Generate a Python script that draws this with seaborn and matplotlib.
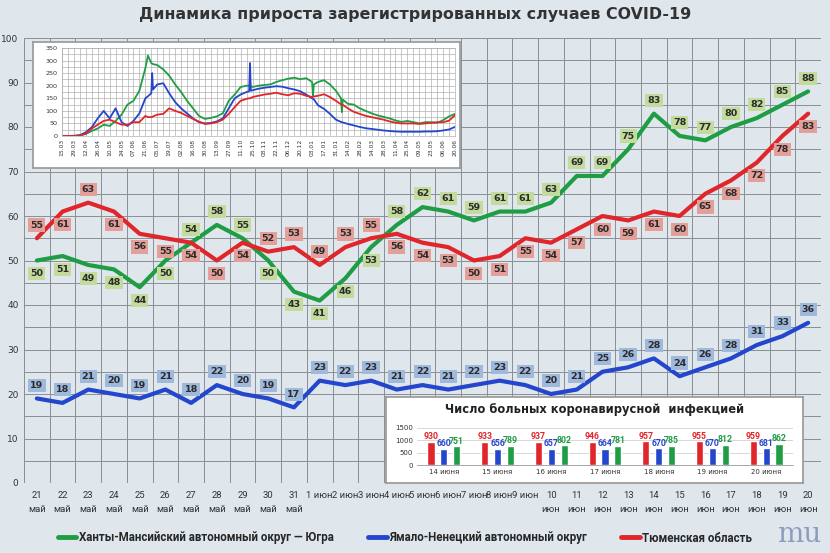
import pandas as pd
import matplotlib
matplotlib.use("Agg")
import matplotlib.pyplot as plt
import seaborn as sns
from matplotlib.lines import Line2D
from matplotlib.ticker import MultipleLocator

# ----------------------------
# Main chart: daily new cases, 21 May - 20 June 2021
# ----------------------------
day_labels = ["21\nмай", "22\nмай", "23\nмай", "24\nмай", "25\nмай", "26\nмай",
              "27\nмай", "28\nмай", "29\nмай", "30\nмай", "31\nмай",
              "1 июн", "2 июн", "3 июн", "4 июн", "5 июн", "6 июн", "7 июн",
              "8 июн", "9 июн", "10\nиюн", "11\nиюн", "12\nиюн", "13\nиюн",
              "14\nиюн", "15\nиюн", "16\nиюн", "17\nиюн", "18\nиюн", "19\nиюн",
              "20\nиюн"]
hmao = [50, 51, 49, 48, 44, 50, 54, 58, 55, 50, 43, 41, 46, 53, 58, 62, 61,
        59, 61, 61, 63, 69, 69, 75, 83, 78, 77, 80, 82, 85, 88]
yanao = [19, 18, 21, 20, 19, 21, 18, 22, 20, 19, 17, 23, 22, 23, 21, 22, 21,
         22, 23, 22, 20, 21, 25, 26, 28, 24, 26, 28, 31, 33, 36]
tyumen = [55, 61, 63, 61, 56, 55, 54, 50, 54, 52, 53, 49, 53, 55, 56, 54, 53,
          50, 51, 55, 54, 57, 60, 59, 61, 60, 65, 68, 72, 78, 83]

names = ["Ханты-Мансийский автономный округ — Югра",
         "Ямало-Ненецкий автономный округ",
         "Тюменская область"]

# ----------------------------
# Top-left inset: whole period since March 2020
# ----------------------------
inset_dates = ["15.03.2020", "22.03.2020", "29.03.2020", "05.04.2020", "12.04.2020",
               "19.04.2020", "26.04.2020", "03.05.2020", "10.05.2020", "17.05.2020",
               "24.05.2020", "31.05.2020", "07.06.2020", "14.06.2020", "21.06.2020",
               "24.06.2020", "28.06.2020", "29.06.2020", "30.06.2020", "05.07.2020",
               "12.07.2020", "19.07.2020", "26.07.2020", "02.08.2020", "09.08.2020",
               "16.08.2020", "23.08.2020", "30.08.2020", "06.09.2020", "13.09.2020",
               "20.09.2020", "27.09.2020", "04.10.2020", "11.10.2020", "18.10.2020",
               "21.10.2020", "22.10.2020", "23.10.2020", "25.10.2020", "01.11.2020",
               "08.11.2020", "15.11.2020", "22.11.2020", "29.11.2020", "06.12.2020",
               "13.12.2020", "20.12.2020", "27.12.2020", "03.01.2021", "04.01.2021",
               "05.01.2021", "10.01.2021", "17.01.2021", "24.01.2021", "31.01.2021",
               "06.02.2021", "07.02.2021", "08.02.2021", "14.02.2021", "21.02.2021",
               "28.02.2021", "07.03.2021", "14.03.2021", "21.03.2021", "28.03.2021",
               "04.04.2021", "11.04.2021", "18.04.2021", "25.04.2021", "02.05.2021",
               "09.05.2021", "16.05.2021", "23.05.2021", "30.05.2021", "06.06.2021",
               "13.06.2021", "20.06.2021"]
inset_hmao = [0, 0, 0, 2, 8, 20, 30, 45, 40, 60, 85, 125, 140, 180, 270,
              320, 290, 288, 286, 282, 265, 240, 205, 175, 140, 110, 80, 68,
              72, 78, 90, 140, 165, 195, 200, 200, 199, 198, 195, 200, 203,
              205, 215, 222, 228, 232, 226, 230, 215, 160, 205, 215, 222, 205,
              180, 150, 95, 145, 128, 125, 110, 100, 90, 82, 76, 70, 62, 56,
              60, 55, 50, 55, 55, 52, 63, 78, 88]
inset_yanao = [0, 0, 1, 3, 15, 35, 70, 100, 70, 110, 55, 40, 60, 90, 150,
               158, 170, 250, 185, 205, 210, 170, 135, 110, 90, 70, 55, 50,
               52, 58, 70, 110, 150, 165, 175, 178, 290, 180, 182, 188, 192,
               195, 198, 196, 190, 185, 178, 165, 150, 148, 146, 122, 108, 88,
               65, 56, 55, 54, 48, 42, 36, 31, 28, 25, 22, 20, 18, 17, 17, 17,
               17, 18, 18, 19, 22, 26, 36]
inset_tyumen = [0, 0, 0, 2, 10, 30, 45, 60, 65, 55, 45, 45, 55, 55, 80,
                75, 75, 76, 78, 85, 88, 110, 100, 92, 80, 68, 57, 48, 50, 55,
                65, 88, 115, 140, 148, 150, 150, 151, 155, 160, 165, 168, 172,
                166, 162, 170, 168, 160, 155, 156, 157, 160, 166, 155, 140, 126,
                125, 124, 110, 96, 88, 80, 75, 70, 65, 58, 53, 50, 50, 50, 48,
                50, 52, 55, 55, 61, 83]

# ----------------------------
# Bottom-right inset: number of patients
# ----------------------------
bar_days = ["14 июня", "15 июня", "16 июня", "17 июня", "18 июня", "19 июня", "20 июня"]
bar_tyumen = [930, 933, 937, 946, 957, 955, 959]
bar_yanao = [660, 656, 657, 664, 670, 670, 681]
bar_hmao = [751, 789, 802, 781, 785, 812, 862]

GREEN, BLUE, RED = "#1f9d45", "#2446cc", "#e0262a"
palette = {names[0]: GREEN, names[1]: BLUE, names[2]: RED}
NARROW = ["Roboto", "DejaVu Sans"]

sns.set_theme(style="white")
plt.rcParams["font.family"] = ["DejaVu Sans"]

fig = plt.figure(figsize=(8.3, 5.53), dpi=100)
fig.patch.set_facecolor("#dfe7ed")

# ----------------------------
# Main axes
# ----------------------------
ax = fig.add_axes([24 / 830, 1 - 483 / 553, 797 / 830, 445 / 553])
ax.set_facecolor("none")

n = len(day_labels)
df = pd.DataFrame({
    "day": list(range(n)) * 3,
    "value": hmao + yanao + tyumen,
    "region": [names[0]] * n + [names[1]] * n + [names[2]] * n,
})
sns.lineplot(data=df, x="day", y="value", hue="region", palette=palette,
             linewidth=3, ax=ax, legend=False)

ax.set_xlim(-0.5, n - 0.5)
ax.set_ylim(0, 100)
ax.set_xticks(range(n))
ax.set_xticklabels(day_labels, fontsize=6.8, color="#333333", linespacing=1.6,
                   family=NARROW)
ax.xaxis.set_minor_locator(MultipleLocator(1, offset=0.5))
ax.yaxis.set_major_locator(MultipleLocator(10))
ax.yaxis.set_minor_locator(MultipleLocator(5))
ax.tick_params(axis="y", labelsize=6.5, colors="#333333", length=0, pad=4)
ax.tick_params(axis="x", which="both", length=0, pad=6)
ax.grid(which="minor", axis="x", color="#8a8f96", linewidth=0.7)
ax.grid(which="both", axis="y", color="#8a8f96", linewidth=0.7)
ax.set_xlabel("")
ax.set_ylabel("")
for s in ax.spines.values():
    s.set_visible(False)

# value labels
green_below = {0, 1, 2, 3, 4, 5, 9, 10, 11, 12, 13}
red_above = {0, 2, 9, 10, 11, 12, 13}


def put_label(i, v, up, face):
    ax.annotate(str(v), (i, v), xytext=(0, 9.5 if up else -9.5),
                textcoords="offset points", ha="center", va="center",
                fontsize=6.8, fontweight="bold", color="#2b2b2b",
                bbox=dict(boxstyle="square,pad=0.22", fc=face, ec="none"))


for i, v in enumerate(hmao):
    put_label(i, v, i not in green_below, "#c3dc9e")
for i, v in enumerate(tyumen):
    put_label(i, v, i in red_above, "#e3a09a")
for i, v in enumerate(yanao):
    put_label(i, v, True, "#9fb9dc")

fig.text(0.5, 1 - 15 / 553, "Динамика прироста зарегистрированных случаев COVID-19",
         ha="center", va="center", fontsize=11.4, fontweight="bold", color="#333333")

# ----------------------------
# Top-left inset
# ----------------------------
box1 = fig.add_axes([33 / 830, 1 - 168 / 553, 427 / 830, 126 / 553])
box1.set_facecolor("white")
box1.set_xticks([])
box1.set_yticks([])
for s in box1.spines.values():
    s.set_color("#9a9a9a")

ax_in = fig.add_axes([62 / 830, 1 - 136 / 553, 393 / 830, 88 / 553])
ax_in.set_facecolor("white")
dates = pd.to_datetime(inset_dates, format="%d.%m.%Y")
m = len(dates)
df_in = pd.DataFrame({
    "date": list(dates) * 3,
    "value": inset_hmao + inset_yanao + inset_tyumen,
    "region": [names[0]] * m + [names[1]] * m + [names[2]] * m,
})
sns.lineplot(data=df_in, x="date", y="value", hue="region", palette=palette,
             hue_order=[names[0], names[1], names[2]],
             linewidth=1.3, ax=ax_in, legend=False)
ax_in.set_xlim(dates[0], dates[-1])
ax_in.set_ylim(0, 350)
tick_dates = pd.date_range(dates[0], dates[-1], freq="14D")
ax_in.set_xticks(tick_dates)
ax_in.set_xticklabels([d.strftime("%d.%m") for d in tick_dates], rotation=90,
                      fontsize=4.3, color="#333333")
ax_in.set_xticks(pd.date_range(dates[0], dates[-1], freq="7D"), minor=True)
ax_in.yaxis.set_major_locator(MultipleLocator(50))
ax_in.yaxis.set_minor_locator(MultipleLocator(25))
ax_in.tick_params(axis="y", labelsize=4.6, colors="#333333", length=0, pad=3)
ax_in.tick_params(axis="x", which="both", length=0, pad=2)
ax_in.grid(which="both", color="#b0b0b0", linewidth=0.5)
ax_in.set_xlabel("")
ax_in.set_ylabel("")
for s in ax_in.spines.values():
    s.set_color("#b0b0b0")
    s.set_linewidth(0.5)

# ----------------------------
# Bottom-right inset
# ----------------------------
box2 = fig.add_axes([386 / 830, 1 - 483 / 553, 417 / 830, 86 / 553])
box2.set_facecolor("white")
box2.set_xticks([])
box2.set_yticks([])
for s in box2.spines.values():
    s.set_color("#9a9a9a")

ax_bar = fig.add_axes([417 / 830, 1 - 465 / 553, 376 / 830, 37 / 553])
ax_bar.set_facecolor("white")
k = len(bar_days)
bar_df = pd.DataFrame({
    "day": bar_days * 3,
    "value": bar_tyumen + bar_yanao + bar_hmao,
    "region": [names[2]] * k + [names[1]] * k + [names[0]] * k,
})
sns.barplot(data=bar_df, x="day", y="value", hue="region",
            hue_order=[names[2], names[1], names[0]], palette=palette,
            width=0.72, gap=0.45, saturation=1, ax=ax_bar, legend=False)
for cont, col in zip(ax_bar.containers, [RED, BLUE, GREEN]):
    ax_bar.bar_label(cont, fontsize=6.3, fontweight="bold", color=col, padding=0.5,
                     family=NARROW)
ax_bar.set_ylim(0, 1500)
ax_bar.set_yticks([0, 500, 1000, 1500])
ax_bar.xaxis.set_minor_locator(MultipleLocator(1, offset=0.5))
ax_bar.tick_params(axis="y", labelsize=5, colors="#333333", length=0, pad=3)
ax_bar.tick_params(axis="x", which="major", labelsize=5, colors="#333333", length=0, pad=3)
ax_bar.tick_params(axis="x", which="minor", length=3, color="#999999", width=0.6)
ax_bar.grid(axis="y", color="#c8c8c8", linewidth=0.5)
ax_bar.set_xlabel("")
ax_bar.set_ylabel("")
for name, s in ax_bar.spines.items():
    s.set_visible(name == "bottom")
    s.set_color("#999999")
    s.set_linewidth(0.6)

fig.text(0.5 * (386 + 803) / 830, 1 - 410 / 553, "Число больных коронавирусной  инфекцией",
         ha="center", va="center", fontsize=8.3, fontweight="bold", color="#222222")

# ----------------------------
# Legend
# ----------------------------
handles = [Line2D([], [], color=palette[nm], linewidth=3.5) for nm in names]
fig.legend(handles, names, loc="center", bbox_to_anchor=(0.488, 1 - 538 / 553),
           ncol=3, frameon=False, handlelength=1.6, handletextpad=0.2,
           columnspacing=3.0,
           prop={"family": NARROW, "weight": "bold", "size": 8.3})

fig.text(0.963, 1 - 535 / 553, "mu", ha="center", va="center", fontsize=20,
         family="DejaVu Serif", color="#7d8fb5", alpha=0.85)

plt.savefig("out.png", dpi=100, facecolor=fig.get_facecolor())
